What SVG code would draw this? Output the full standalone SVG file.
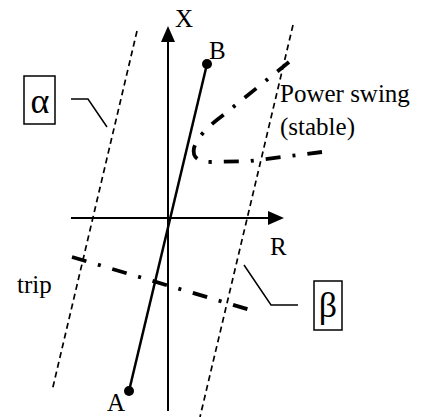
<svg xmlns="http://www.w3.org/2000/svg" width="425" height="417" viewBox="0 0 425 417">
<style>
text{font-family:"Liberation Serif","Times New Roman",serif;fill:#000;font-size:25px}
text.greek{font-size:36px;text-anchor:middle}
.axis{stroke:#000;stroke-width:2;fill:none}
.zone{stroke:#000;stroke-width:1.7;fill:none;stroke-dasharray:6 4}
.dd{stroke:#000;stroke-width:3.8;fill:none;stroke-dasharray:15 12 3 12}
.thin{stroke:#000;stroke-width:1.5;fill:none}
.box{stroke:#000;stroke-width:1.5;fill:#fff}
</style>
<rect width="425" height="417" fill="#fff"/>
<g id="axes">
<line class="axis" x1="168" y1="411" x2="168" y2="40"/>
<polygon points="168,26 161,42 175,42" fill="#000"/>
<line class="axis" x1="71" y1="218" x2="270" y2="218"/>
<polygon points="284,218 268,211 268,225" fill="#000"/>
<text x="175" y="27">X</text>
<text x="270" y="255">R</text>
</g>
<g id="zone-alpha">
<line class="zone" x1="137" y1="31" x2="52" y2="391"/>
</g>
<g id="zone-beta">
<line class="zone" x1="293" y1="25" x2="200" y2="417"/>
</g>
<g id="line-AB">
<line x1="129" y1="391" x2="207" y2="64" stroke="#000" stroke-width="2.5"/>
<circle cx="129" cy="391" r="5" fill="#000"/>
<circle cx="207" cy="64" r="5" fill="#000"/>
<text x="107" y="411">A</text>
<text x="209" y="59">B</text>
</g>
<g id="power-swing">
<path class="dd" d="M289 62 L222 116 Q198 134 194 148 Q191 162 212 162 L250 161 L322 152"/>
<text x="280" y="102">Power swing</text>
<text x="280" y="135">(stable)</text>
</g>
<g id="trip">
<line class="dd" x1="72" y1="257" x2="257" y2="312"/>
<text x="17" y="293">trip</text>
</g>
<g id="label-alpha">
<rect class="box" x="24" y="76" width="31" height="48"/>
<text class="greek" x="40" y="113">α</text>
</g>
<g id="label-beta">
<rect class="box" x="314" y="281" width="28" height="49"/>
<text class="greek" x="328" y="317">β</text>
</g>
<g id="connectors">
<polyline class="thin" points="71,99 88,99 107,127"/>
<polyline class="thin" points="244,265 271,305 298,305"/>
</g>
</svg>
